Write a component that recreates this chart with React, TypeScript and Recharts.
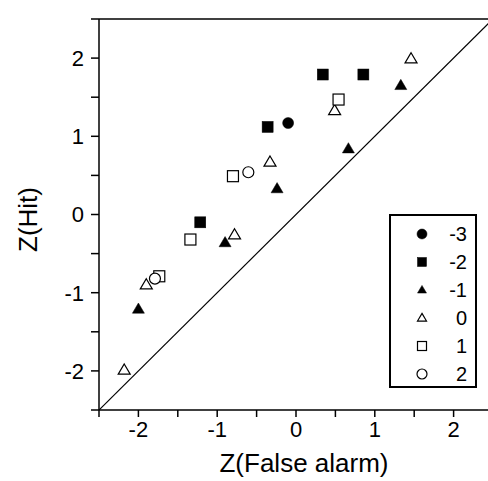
import React from 'react';
import {
  ScatterChart,
  Scatter,
  XAxis,
  YAxis,
  ReferenceLine,
  Legend,
  Label,
} from 'recharts';

// z-scores, one pair of arrays per criterion level
const faM3 = [-0.1];
const hitM3 = [1.17];

const faM2 = [0.34, 0.855, -0.36, -1.215];
const hitM2 = [1.79, 1.79, 1.12, -0.1];

const faM1 = [1.33, 0.665, -0.24, -0.9, -2.0];
const hitM1 = [1.65, 0.84, 0.33, -0.36, -1.21];

const fa0 = [1.46, 0.49, -0.33, -0.78, -1.9, -2.18];
const hit0 = [1.99, 1.33, 0.67, -0.26, -0.9, -1.99];

const faP1 = [0.54, -0.8, -1.34, -1.735];
const hitP1 = [1.47, 0.49, -0.32, -0.79];

const faP2 = [-0.605, -1.79];
const hitP2 = [0.54, -0.82];

const axisTicks = [-2.5, -2, -1.5, -1, -0.5, 0, 0.5, 1, 1.5, 2, 2.5];
const diagonal = [-2.5, 2.5];

const FONT = '"Liberation Sans", Arial, Helvetica, sans-serif';

type Kind = 'circle' | 'square' | 'triangle';

const series = [
  { name: '-3', kind: 'circle' as Kind, filled: true, fa: faM3, hit: hitM3 },
  { name: '-2', kind: 'square' as Kind, filled: true, fa: faM2, hit: hitM2 },
  { name: '-1', kind: 'triangle' as Kind, filled: true, fa: faM1, hit: hitM1 },
  { name: '0', kind: 'triangle' as Kind, filled: false, fa: fa0, hit: hit0 },
  { name: '1', kind: 'square' as Kind, filled: false, fa: faP1, hit: hitP1 },
  { name: '2', kind: 'circle' as Kind, filled: false, fa: faP2, hit: hitP2 },
];

function Marker({ kind, filled, cx, cy, s }: { kind: Kind; filled: boolean; cx: number; cy: number; s: number }) {
  const fill = filled ? '#000' : '#fff';
  const common = { fill, stroke: '#000', strokeWidth: filled ? 0.5 : 1.2 };
  if (kind === 'circle') return <circle cx={cx} cy={cy} r={s / 2} {...common} />;
  if (kind === 'square') return <rect x={cx - s / 2} y={cy - s / 2} width={s} height={s} {...common} />;
  const h = s * 0.85;
  return (
    <polygon
      points={`${cx},${cy - h * 0.6} ${cx + s / 2},${cy + h * 0.4} ${cx - s / 2},${cy + h * 0.4}`}
      {...common}
    />
  );
}

const fmt = (v: number) => (Number.isInteger(v) ? String(v) : '');

function LegendBox() {
  return (
    <div
      style={{
        position: 'relative',
        width: 88,
        height: 174,
        border: '2px solid #000',
        boxSizing: 'border-box',
        background: '#fff',
        fontFamily: FONT,
      }}
    >
      {series.map((s, i) => (
        <div
          key={s.name}
          style={{ position: 'absolute', left: 0, top: 4 + i * 28, width: 84, height: 28 }}
        >
          <svg width={20} height={28} style={{ position: 'absolute', left: 21, top: 0 }}>
            <Marker kind={s.kind} filled={s.filled} cx={10} cy={14} s={s.kind === 'circle' ? 10 : 9} />
          </svg>
          <span
            style={{
              position: 'absolute',
              right: 8,
              top: 2,
              fontSize: 20,
              lineHeight: '24px',
              color: '#000',
            }}
          >
            {s.name}
          </span>
        </div>
      ))}
    </div>
  );
}

export default function App() {
  return (
    <div style={{ position: 'absolute', left: 0, top: 0, width: 488, height: 481, overflow: 'hidden', background: '#fff' }}>
      <ScatterChart width={493} height={481} margin={{ top: 0, right: 0, bottom: 0, left: 0 }}>
        <XAxis
          xAxisId="top"
          orientation="top"
          type="number"
          dataKey="x"
          domain={[-2.5, 2.5]}
          ticks={axisTicks}
          tickFormatter={() => ''}
          height={19}
          tickSize={7}
          axisLine={{ stroke: '#000', strokeWidth: 1.5 }}
          tickLine={{ stroke: '#000', strokeWidth: 1.5 }}
        />
        <XAxis
          type="number"
          dataKey="x"
          domain={[-2.5, 2.5]}
          ticks={axisTicks}
          tickFormatter={fmt}
          height={71}
          tickSize={7}
          tickMargin={4}
          axisLine={{ stroke: '#000', strokeWidth: 1.5 }}
          tickLine={{ stroke: '#000', strokeWidth: 1.5 }}
          tick={{ fill: '#000', fontSize: 22, fontFamily: FONT }}
        >
          <Label
            content={(p: any) => {
              const vb = p.viewBox;
              return (
                <text x={vb.x + vb.width / 2 + 8} y={vb.y + 62} textAnchor="middle" fontSize={26} fontFamily={FONT} fill="#000">
                  Z(False alarm)
                </text>
              );
            }}
          />
        </XAxis>
        <YAxis
          type="number"
          dataKey="y"
          domain={[-2.5, 2.5]}
          ticks={axisTicks}
          tickFormatter={fmt}
          width={99}
          tickSize={8}
          tickMargin={7}
          axisLine={{ stroke: '#000', strokeWidth: 1.5 }}
          tickLine={{ stroke: '#000', strokeWidth: 1.5 }}
          tick={{ fill: '#000', fontSize: 22, fontFamily: FONT }}
        >
          <Label
            content={(p: any) => {
              const vb = p.viewBox;
              const cx = 37;
              const cy = vb.y + vb.height / 2 + 5;
              return (
                <text x={cx} y={cy} transform={`rotate(-90 ${cx} ${cy})`} textAnchor="middle" fontSize={26} fontFamily={FONT} fill="#000">
                  Z(Hit)
                </text>
              );
            }}
          />
        </YAxis>
        <ReferenceLine
          segment={[
            { x: diagonal[0], y: diagonal[0] },
            { x: diagonal[1], y: diagonal[1] },
          ]}
          stroke="#000"
          strokeWidth={1.2}
          ifOverflow="hidden"
        />
        {series.map((s) => (
          <Scatter
            key={s.name}
            name={s.name}
            data={s.fa.map((x, i) => ({ x, y: s.hit[i] }))}
            isAnimationActive={false}
            shape={(p: any) => (
              <Marker kind={s.kind} filled={s.filled} cx={p.cx} cy={p.cy} s={s.kind === 'triangle' ? 12 : 11} />
            )}
          />
        ))}
        <Legend
          layout="horizontal"
          verticalAlign="middle"
          align="center"
          content={() => <LegendBox />}
          wrapperStyle={{ left: 389, top: 214, width: 88, height: 174 }}
        />
      </ScatterChart>
    </div>
  );
}
